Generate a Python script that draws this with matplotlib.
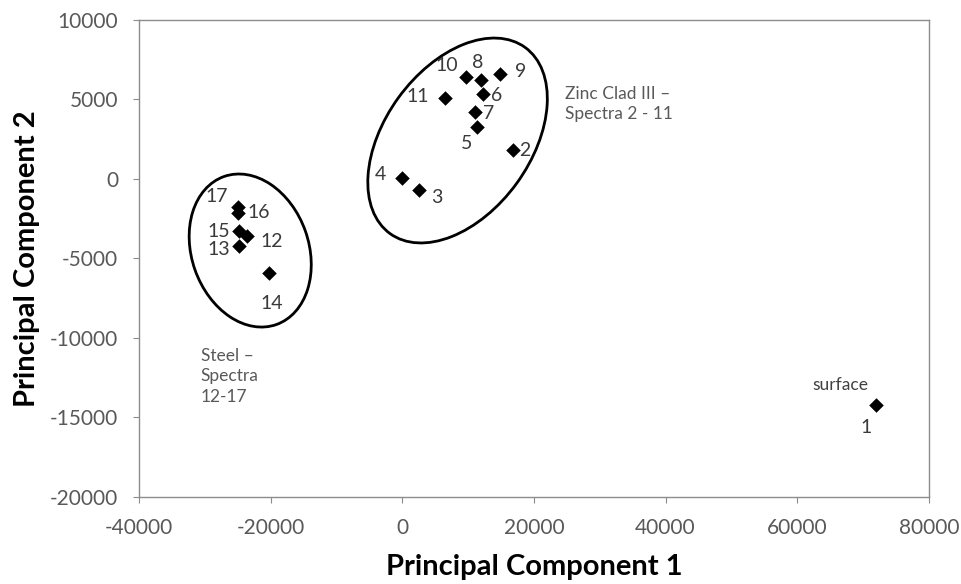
import numpy as np
import matplotlib
matplotlib.use('Agg')
import matplotlib.pyplot as plt
from matplotlib.patches import Ellipse
from matplotlib.transforms import ScaledTranslation

plt.rcParams['font.family'] = ['Lato', 'DejaVu Sans']
plt.rcParams['axes.unicode_minus'] = False

# PCA scores, one per spectrum
spectrum = ['1', '2', '3', '4', '5', '6', '7', '8', '9', '10', '11',
            '12', '13', '14', '15', '16', '17']
pc1 = [72000, 16800, 2500, 0, 11300, 12200, 11000, 11900, 14800, 9700, 6500,
       -23600, -24800, -20300, -24800, -25000, -25000]
pc2 = [-14200, 1800, -700, 50, 3300, 5350, 4200, 6250, 6600, 6400, 5100,
       -3600, -4200, -5900, -3300, -2150, -1750]

zinc_text = "Zinc Clad III \u2013\nSpectra 2 - 11"
steel_text = "Steel \u2013\nSpectra\n12-17"

# label placement (pixels from the marker) and alignment per spectrum
lab_off = {'1': (-10, -23, 'center'), '2': (6, 0, 'left'), '3': (12, -7, 'left'),
           '4': (-16, 4, 'right'), '5': (-10, -17, 'center'), '6': (8, -2, 'left'),
           '7': (8, -1, 'left'), '8': (-3, 17, 'center'), '9': (15, 3, 'left'),
           '10': (-8, 12, 'right'), '11': (-16, 1, 'right'), '12': (14, -5, 'left'),
           '13': (-9, -4, 'right'), '14': (3, -31, 'center'), '15': (-9, 0, 'right'),
           '16': (10, 1, 'left'), '17': (-10, 10, 'right')}

fig = plt.figure(figsize=(9.61, 5.84), dpi=100)
ax = fig.add_axes([0.1446, 0.149, 0.822, 0.8168])

ax.scatter(pc1, pc2, marker='D', s=55, color='black', zorder=3, linewidths=0)

for name, x, y in zip(spectrum, pc1, pc2):
    dx, dy, ha = lab_off[name]
    ax.annotate(name, (x, y), xytext=(dx, dy), textcoords='offset pixels',
                ha=ha, va='center', fontsize=14, color='#3a3a3a')

ax.annotate('surface', (pc1[0], pc2[0]), xytext=(-36, 20), textcoords='offset pixels',
            ha='center', va='center', fontsize=12.5, color='#404040')

# cluster outlines, sized in inches around a data-space centre
def ring(cx, cy, w, h, ang):
    tr = fig.dpi_scale_trans + ScaledTranslation(cx, cy, ax.transData)
    ax.add_patch(Ellipse((0, 0), w, h, angle=ang, transform=tr, fill=False,
                         ec='black', lw=2.0, zorder=2))

ring(8400, 2420, 2.30, 1.46, 54)
ring(-23100, -4500, 1.57, 1.17, 109.5)

ax.text(24700, 4700, zinc_text, ha='left', va='center', fontsize=12.5,
        color='#595959', linespacing=1.3)
ax.text(-30600, -12400, steel_text, ha='left', va='center', fontsize=12.5,
        color='#595959', linespacing=1.35)

ax.set_xlim(-40000, 80000)
ax.set_ylim(-20000, 10000)
ax.set_xticks(np.arange(-40000, 80001, 20000))
ax.set_yticks(np.arange(-20000, 10001, 5000))

for sp in ax.spines.values():
    sp.set_color('#8c8c8c')
    sp.set_linewidth(1.0)
ax.tick_params(direction='out', length=4, color='#8c8c8c', labelsize=15,
               labelcolor='#595959', pad=11)

ax.set_xlabel('Principal Component 1', fontsize=21, fontweight='bold', labelpad=12)
ax.set_ylabel('Principal Component 2', fontsize=21, fontweight='bold', labelpad=7)

fig.savefig('out.png', dpi=100)
